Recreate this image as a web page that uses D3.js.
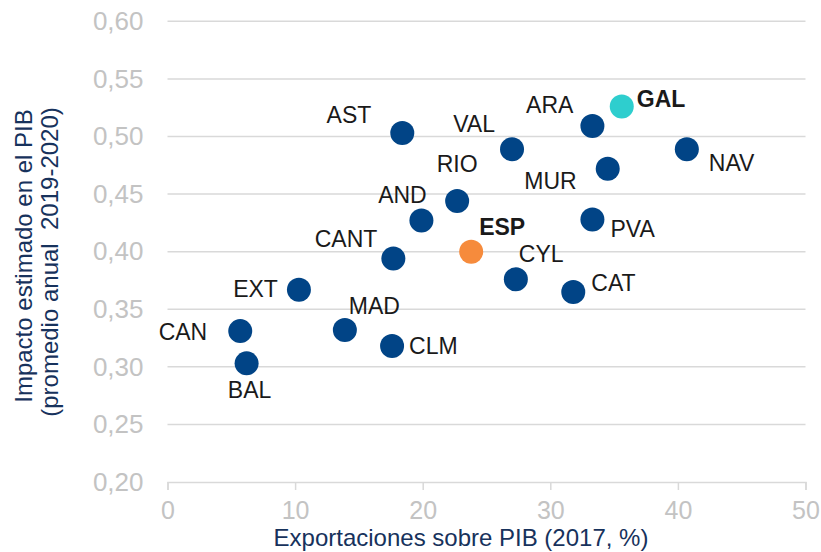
<!DOCTYPE html>
<html>
<head>
<meta charset="utf-8">
<script src="https://cdn.jsdelivr.net/npm/d3@7"></script>
<style>
  html, body { margin: 0; padding: 0; background: #fff; }
  svg { display: block; font-family: "Liberation Sans", Arial, sans-serif; }
</style>
</head>
<body>
<svg id="chart" width="821" height="552"></svg>
<script>
// ---- Data ----
const regions = ["AST","VAL","ARA","NAV","MUR","RIO","AND","PVA","CANT","CYL","CAT","EXT","MAD","CLM","CAN","BAL","ESP","GAL"];
const exportsPct = [18.4, 27.0, 33.3, 40.7, 34.5, 22.7, 19.9, 33.3, 17.7, 27.3, 31.8, 10.3, 13.9, 17.6, 5.7, 6.2, 23.8, 35.6];
const impact = [0.503, 0.489, 0.509, 0.489, 0.472, 0.444, 0.427, 0.428, 0.394, 0.376, 0.365, 0.367, 0.332, 0.318, 0.331, 0.303, 0.400, 0.526];
const xTicks = [0, 10, 20, 30, 40, 50];
const yTicks = [0.20, 0.25, 0.30, 0.35, 0.40, 0.45, 0.50, 0.55, 0.60];
const xTitle = "Exportaciones sobre PIB (2017, %)";
const yTitleLines = ["Impacto estimado en el PIB", "(promedio anual  2019-2020)"];

// ---- Layout / style (not data) ----
const labelLayout = {
  AST:  {dx: -31, dy: -10, anchor: "end"},
  VAL:  {dx: -17, dy: -17, anchor: "end"},
  ARA:  {dx: -19, dy: -13, anchor: "end"},
  GAL:  {dx: 15,  dy: 0,   anchor: "start", bold: true},
  NAV:  {dx: 22,  dy: 22,  anchor: "start"},
  MUR:  {dx: -31, dy: 20,  anchor: "end"},
  RIO:  {dx: 0,   dy: -29, anchor: "middle"},
  AND:  {dx: -19, dy: -18, anchor: "middle"},
  PVA:  {dx: 18,  dy: 18,  anchor: "start"},
  ESP:  {dx: 8,   dy: -17, anchor: "start", bold: true},
  CANT: {dx: -16, dy: -12, anchor: "end"},
  CYL:  {dx: 3,   dy: -17, anchor: "start"},
  CAT:  {dx: 18,  dy: -1,  anchor: "start"},
  EXT:  {dx: -21, dy: 7,   anchor: "end"},
  MAD:  {dx: 4,   dy: -16, anchor: "start"},
  CLM:  {dx: 17,  dy: 8,   anchor: "start"},
  CAN:  {dx: -33, dy: 9,   anchor: "end"},
  BAL:  {dx: 3,   dy: 35,  anchor: "middle"}
};
const colorFor = r => r === "GAL" ? "#2ECECE" : (r === "ESP" ? "#F68B3C" : "#014486");

const points = regions.map((r, i) => ({region: r, x: exportsPct[i], y: impact[i]}));

const svg = d3.select("#chart");
const x = d3.scaleLinear().domain([0, 50]).range([167.5, 805.5]);
const y = d3.scaleLinear().domain([0.20, 0.60]).range([482, 21.3]);

const locale = d3.formatLocale({decimal: ",", thousands: ".", grouping: [3], currency: ["", "€"]});
const fmtY = locale.format(".2f");

const gridColor = "#d9d9d9";
const tickColor = "#c3c3c3";

// gridlines
svg.append("g").selectAll("line")
  .data(yTicks.filter(t => t > 0.2))
  .join("line")
  .attr("x1", x(0)).attr("x2", x(50))
  .attr("y1", d => y(d)).attr("y2", d => y(d))
  .attr("stroke", gridColor).attr("stroke-width", 1.5);

// y axis (labels only)
const yAxis = svg.append("g")
  .attr("transform", `translate(${x(0)},0)`)
  .call(d3.axisLeft(y).tickValues(yTicks).tickFormat(fmtY).tickSize(0).tickPadding(24));
yAxis.select(".domain").remove();
yAxis.selectAll("text")
  .attr("fill", tickColor).attr("font-size", 26)
  .attr("font-family", "Liberation Sans, Arial, sans-serif");

// x axis
const xAxis = svg.append("g")
  .attr("transform", `translate(0,${y(0.20)})`)
  .call(d3.axisBottom(x).tickValues(xTicks).tickFormat(d3.format("d")).tickSize(8).tickPadding(11));
xAxis.select(".domain").attr("stroke", gridColor).attr("stroke-width", 1.5);
xAxis.selectAll(".tick line").attr("stroke", gridColor).attr("stroke-width", 1.5);
xAxis.selectAll("text")
  .attr("fill", tickColor).attr("font-size", 25)
  .attr("font-family", "Liberation Sans, Arial, sans-serif");

// axis titles
svg.append("text")
  .attr("x", 461).attr("y", 546)
  .attr("text-anchor", "middle")
  .attr("font-size", 24).attr("fill", "#17325c")
  .text(xTitle);

const yTitleCenters = [256, 262];
const yTitleBaselines = [32, 58];
yTitleLines.forEach((line, i) => {
  svg.append("text")
    .attr("transform", `translate(${yTitleBaselines[i]},${yTitleCenters[i]}) rotate(-90)`)
    .attr("text-anchor", "middle")
    .attr("font-size", 24).attr("fill", "#17325c")
    .attr("xml:space", "preserve")
    .style("white-space", "pre")
    .text(line);
});

// dots
svg.append("g").selectAll("circle")
  .data(points)
  .join("circle")
  .attr("cx", d => x(d.x)).attr("cy", d => y(d.y))
  .attr("r", 12)
  .attr("fill", d => colorFor(d.region));

// labels
svg.append("g").selectAll("text")
  .data(points)
  .join("text")
  .attr("x", d => x(d.x) + labelLayout[d.region].dx)
  .attr("y", d => y(d.y) + labelLayout[d.region].dy)
  .attr("text-anchor", d => labelLayout[d.region].anchor)
  .attr("font-size", 23)
  .attr("font-weight", d => labelLayout[d.region].bold ? "bold" : "normal")
  .attr("fill", "#1a1a1a")
  .text(d => d.region);
</script>
</body>
</html>
